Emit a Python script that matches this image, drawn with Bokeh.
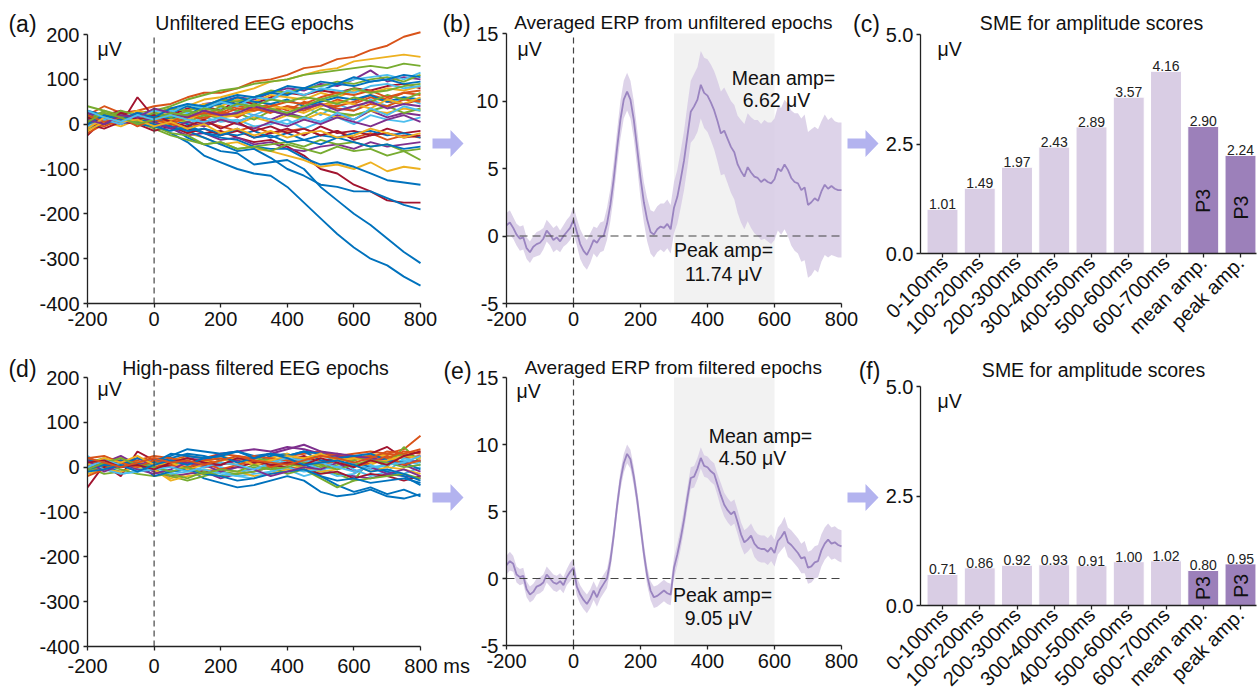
import numpy as np
from math import pi
from bokeh.plotting import figure
from bokeh.layouts import row, column
from bokeh.models import Label, BoxAnnotation, FixedTicker, PrintfTickFormatter, Range1d
from bokeh.core.properties import value
from bokeh.embed import file_html
from bokeh.resources import INLINE

FONT = "Liberation Sans"
FONT_V = value(FONT)

# ------------------------------------------------------------------ data
epoch_times = [-200, -150, -100, -50, 0, 50, 100, 150, 200, 250, 300,
               350, 400, 450, 500, 550, 600, 650, 700, 750, 800]

B, O, Y, P, G, C, R = "#0072BD", "#D95319", "#EDB120", "#7E2F8E", "#77AC30", "#4DBEEE", "#A2142F"

epochs_unfiltered = [
    [10, 20, 5, 15, 0, -20, -40, -70, -85, -100, -110, -115, -140, -175, -210, -245, -275, -300, -315, -340, -360],
    [20, 40, 25, 30, 40, 45, 60, 70, 70, 80, 95, 100, 110, 125, 130, 145, 150, 165, 175, 195, 205],
    [0, 10, 20, 15, 25, 30, 40, 55, 60, 70, 80, 95, 100, 110, 120, 125, 140, 145, 150, 155, 150],
    [5, 15, 25, 10, 20, 35, 30, 45, 50, 60, 55, 70, 80, 75, 90, 85, 100, 120, 95, 105, 100],
    [15, 20, 10, 25, 30, 40, 55, 65, 75, 80, 90, 95, 100, 110, 115, 120, 125, 130, 125, 135, 130],
    [5, 0, 10, 20, 15, 30, 25, 20, 35, 40, 50, 55, 70, 80, 85, 90, 100, 105, 110, 100, 115],
    [-25, 10, 0, 60, 15, 0, -10, -20, -15, -30, -40, -35, -50, -70, -100, -110, -135, -150, -170, -175, -175],
    [20, 25, 10, 20, 10, -5, -30, -45, -60, -65, -90, -85, -80, -100, -140, -170, -200, -225, -255, -285, -310],
    [5, 20, 10, 0, 10, 20, 15, 30, 25, 40, 35, 45, 30, 50, 40, 55, 45, 60, 50, 45, 55],
    [-10, 5, -5, 10, 5, 0, -20, -30, -45, -40, -55, -60, -70, -80, -95, -90, -100, -85, -105, -95, -100],
    [-5, 0, 15, 5, 0, -10, -25, -20, -35, -30, -45, -40, -55, -60, -50, -45, -55, -40, -50, -45, -40],
    [40, 30, 15, 5, -10, -25, -35, -45, -40, -55, -50, -45, -40, -50, -35, -45, -40, -50, -45, -60, -55],
    [10, 15, 0, 10, 20, 5, 15, 25, 10, 30, 20, 35, 25, 40, 20, 45, 30, 55, 40, 60, 45],
    [15, 20, 30, 10, 25, 20, 35, 40, 30, 55, 45, 60, 70, 65, 75, 70, 80, 75, 85, 90, 80],
    [0, 15, 20, 5, 15, 5, -15, -30, -45, -60, -55, -75, -100, -115, -135, -140, -150, -150, -165, -180, -190],
    [-20, 0, 5, 15, 10, 0, -10, 5, -5, -15, -5, -20, -15, -10, -25, -15, -30, -20, -35, -25, -30],
    [10, 25, 15, 30, 20, 35, 30, 45, 40, 55, 50, 65, 60, 55, 70, 60, 75, 70, 80, 75, 85],
    [10, 20, 5, 15, 10, 5, 15, 0, 10, 5, 20, 10, 25, 15, 5, 20, 10, 30, 15, 25, 20],
    [20, 10, 30, 20, 25, 35, 30, 40, 55, 50, 60, 75, 70, 80, 85, 95, 90, 100, 105, 95, 110],
    [20, 5, 15, 25, 10, 20, 0, 15, 5, 10, -5, 0, 10, -10, 5, 15, 0, 20, 10, 5, 15],
    [0, -10, 5, 0, -15, -5, -20, -10, -25, -15, -30, -20, -10, -25, -5, -20, -15, -25, -10, -20, -15],
    [30, 20, 10, 25, 20, 10, 0, -20, -30, -35, -50, -55, -55, -75, -90, -85, -95, -110, -125, -130, -135],
    [0, 15, 5, 10, 5, 10, 20, 15, 25, 20, 35, 30, 40, 35, 45, 40, 50, 65, 55, 70, 65],
    [-5, 10, 5, 15, 0, 10, 5, -5, 10, 0, 15, 5, 20, 10, 25, 15, 20, 30, 25, 35, 30],
    [10, 5, 15, 0, -5, -20, -25, -45, -40, -55, -50, -60, -45, -55, -65, -50, -60, -55, -70, -60, -80],
    [0, 15, 5, 20, 10, 15, 5, 20, 15, 25, 10, 30, 20, 15, 35, 25, 20, 30, 40, 25, 35],
    [15, 5, 20, 10, 5, 15, 20, 40, 45, 60, 50, 45, 55, 40, 50, 60, 55, 65, 50, 60, 55],
    [0, 10, 5, 20, 15, 25, 40, 30, 50, 45, 60, 70, 65, 80, 75, 90, 85, 95, 100, 90, 95],
    [25, 15, 20, 10, 0, -5, -15, -10, -20, -25, -15, -30, -20, -35, -25, -30, -20, -15, -25, -20, -30],
    [-10, 0, 10, 0, -5, -15, -5, -20, -25, -10, -30, -25, -40, -35, -45, -30, -40, -50, -45, -55, -50],
    [5, -5, 10, 25, 15, 5, 20, 10, 30, 15, 35, 25, 40, 30, 45, 35, 30, 45, 40, 55, 50],
    [-15, 5, 20, 10, 30, 20, 10, 25, 15, 20, 30, 40, 35, 25, 40, 50, 45, 35, 55, 45, 60],
    [25, 10, 0, 15, 5, -10, 5, -5, 10, 0, -10, 5, -5, 10, 0, 15, 5, -5, 10, 20, 5],
    [10, 30, 20, 5, 25, 15, 30, 20, 40, 30, 45, 35, 25, 40, 55, 45, 60, 50, 65, 55, 70],
    [-5, 10, 0, 20, 30, 25, 45, 35, 50, 40, 60, 55, 75, 65, 80, 75, 70, 85, 90, 80, 85],
    [15, 0, 25, 10, 20, 5, -5, 10, -10, 5, -15, -5, -20, -10, -25, -15, -35, -25, -20, -30, -25],
    [0, 20, 10, 25, 15, 35, 45, 40, 55, 65, 60, 70, 85, 80, 95, 90, 105, 95, 100, 110, 105],
    [20, 5, 15, -5, 10, 0, 15, 25, 20, 35, 30, 40, 50, 45, 60, 70, 65, 75, 60, 70, 75],
    [-10, 15, 5, 10, -5, 5, -10, 0, -20, -10, -25, -15, -30, -20, -15, -30, -25, -10, -20, -30, -20],
    [10, 0, 20, 15, 35, 25, 15, 30, 20, 25, 40, 30, 20, 35, 45, 30, 40, 50, 35, 45, 40],
    [5, 25, 15, 0, 10, 25, 20, 35, 30, 45, 40, 55, 50, 60, 55, 65, 80, 70, 75, 85, 90],
    [30, 15, 5, 20, 10, 20, 10, 5, 15, 5, 20, 10, 0, 15, 5, 25, 10, 35, 20, 40, 30],
]
epochs_unfiltered_colors = [B, O, Y, P, G, C, R, B, O, Y, P, G, C, R, B, O, Y, P, G, C,
                            R, B, O, Y, G, G, B, B, B, B,
                            O, Y, P, G, C, R, B, O, Y, P, G, C]

epochs_filtered = [
    [10, 0, -10, 5, 0, -10, -5, -25, -35, -45, -40, -30, -20, -30, -55, -65, -60, -50, -65, -70, -60],
    [5, 15, 20, 10, 20, 15, 25, 20, 30, 25, 20, 30, 25, 30, 35, 25, 30, 35, 30, 40, 70],
    [0, 10, 0, 15, -10, -25, -15, -5, -10, 0, 10, 5, -5, 5, 15, 0, 10, 5, 20, 10, 15],
    [-5, 10, 0, 5, -10, -20, -15, -10, -25, -15, -10, 0, 10, 5, -5, -15, -20, -25, -15, -20, -25],
    [0, -15, -10, 0, -5, -20, -30, -20, -10, -15, 0, -5, 10, 0, -10, -15, -30, 20, 0, 45, 10],
    [25, 0, -15, -10, 0, -10, -5, -15, -10, -20, -15, -10, -5, -20, -10, 20, -5, -20, -10, -15, 0],
    [-45, 5, -20, 35, 15, 0, -5, 10, 5, 15, 10, 20, 15, 25, 10, 20, 15, 30, 45, 20, 25],
    [0, 10, 5, -5, 10, 20, 30, 25, 15, 20, 10, 25, 30, 10, -20, -40, -55, -45, -60, -50, -65],
    [-10, 0, 5, -5, 0, 10, 5, 15, 10, 5, 15, 10, 20, 15, 10, 15, 25, 20, 30, 25, 35],
    [15, 5, 20, 10, 5, 15, 20, 10, 25, 15, 10, 20, 30, 15, 25, 20, 15, 30, 25, 20, 10],
    [20, 10, 25, 5, 15, 10, 20, 15, 30, 35, 40, 35, 45, 40, 30, 25, 20, 15, 10, 5, -10],
    [10, 20, 5, 0, 10, 5, 15, 0, 10, 5, 20, 15, 5, 10, 0, 5, 15, 25, 20, 30, 20],
    [0, 10, 15, -5, 5, 15, 5, 10, 0, -10, -5, 5, 15, 10, -5, -20, -15, 5, -10, 20, 10],
    [10, 0, 15, 5, -5, 5, 0, -10, -5, 0, 10, 5, 0, -5, -15, -10, -25, -15, -20, -30, -20],
    [20, 5, 15, 0, 15, 25, 40, 35, 30, 35, 25, 30, 25, 35, 30, 20, 10, 0, -10, -20, -40],
    [20, 25, 10, 15, 25, 20, 10, 15, 20, 15, 25, 20, 15, 20, 25, 30, 20, 25, 20, 35, 30],
    [-15, -5, -10, 0, -5, -30, -20, -15, -5, -10, -20, -15, -5, 0, -10, -5, 5, -10, 0, -5, -15],
    [5, -5, 10, 20, 5, 15, 10, 0, 5, 15, 20, 30, 40, 50, 35, 30, 25, 20, 15, 10, 15],
    [-10, 5, -5, -15, -20, -15, -25, -10, -20, -15, -10, 0, -15, -5, -25, -45, -30, -25, -20, -15, -25],
    [10, -5, -15, -10, 0, -15, -10, -5, -15, -20, -25, -10, 0, -10, -5, 0, 10, -5, 5, 15, 5],
    [-5, 5, 0, 10, -20, -10, -5, -15, -20, -30, -25, -15, -10, -5, -20, -30, -25, -35, -30, -25, -35],
    [15, 10, 5, 20, 10, 30, 25, 20, 25, 35, 20, 30, 25, 35, 15, 20, 25, 30, 15, 10, -5],
    [-20, -5, 10, 0, 15, 5, 0, 10, -5, 5, 15, 0, 10, 20, 5, 15, 0, 10, 25, 5, 15],
    [5, 20, 10, 25, 5, 10, -5, 5, 15, 20, 5, 15, 25, 20, 30, 15, 20, 10, 15, 25, 20],
    [15, -10, 5, -5, -15, -5, 10, 5, -10, 0, -5, -20, -10, 0, -5, 10, -10, 0, -15, -5, -20],
    [-5, 10, 20, 5, 0, -10, 0, -15, -5, -10, 5, -5, 0, 10, 5, -5, 5, 15, 10, 0, 5],
    [0, 15, 5, -10, -5, 0, -10, 0, 10, 5, -5, 10, 20, 15, 10, 0, -10, 0, 5, 10, 25],
    [10, 15, 0, 5, -5, 10, 20, 10, 5, 20, 15, 5, 10, 5, 20, 10, 0, 15, 5, 25, 35],
    [-10, -5, 5, -10, 5, 15, 5, 20, 25, 10, 20, 30, 20, 5, 10, 15, 5, -10, -5, -15, -30],
    [20, 10, 0, 10, 20, 10, 15, 5, 15, 25, 15, 10, 5, 15, 25, 20, 10, 20, 35, 30, 40],
]
epochs_filtered_colors = [B, O, Y, P, G, C, R, B, O, Y, P, G, C, R, B, O, Y, P, G, C, B, B,
                          O, Y, P, G, C, R, B, O]

erp_times = list(range(-200, 801, 10))
erp_unfiltered = [
    0.8, 1.0, 0.6, 0.1, -0.2, -0.1, -0.9, -1.2, -0.8, -0.6,
    -0.5, -0.2, 0.4, 0.1, -0.3, -0.1, -0.4, 0.0, 0.3, 0.6,
    1.2, 0.3, -0.6, -1.1, -1.4, -0.9, -0.3, -0.5, -0.1, 0.0,
    0.9, 2.3, 4.2, 6.5, 8.6, 10.1, 10.7, 10.1, 8.6, 6.5,
    4.3, 2.5, 1.2, 0.3, 0.1, 0.5, 0.7, 0.6, 0.9, 0.5,
    2.1, 2.9, 4.2, 5.6, 7.4, 9.2, 9.6, 10.1, 11.2, 10.6,
    10.4, 9.9, 9.3, 8.5, 7.6, 7.8, 7.2, 6.6, 6.2, 5.3,
    4.8, 4.4, 5.1, 4.7, 4.4, 4.3, 4.0, 4.2, 4.0, 3.9,
    4.2, 5.0, 4.8, 5.3, 4.9, 4.3, 4.0, 3.9, 3.4, 3.6,
    2.3, 2.5, 2.8, 2.6, 3.3, 3.8, 3.5, 3.7, 3.5, 3.4, 3.4]
erp_unfiltered_ci = [
    0.9, 0.9, 0.8, 0.8, 0.9, 0.9, 0.8, 0.8, 0.8, 0.9,
    0.9, 0.8, 0.8, 0.8, 0.9, 0.9, 0.8, 0.8, 0.9, 0.9,
    1.0, 1.0, 1.1, 1.1, 1.1, 1.1, 1.0, 1.1, 1.1, 1.1,
    1.2, 1.2, 1.3, 1.3, 1.4, 1.4, 1.4, 1.4, 1.4, 1.4,
    1.5, 1.5, 1.6, 1.6, 1.7, 1.7, 1.7, 1.8, 1.8, 1.8,
    1.9, 2.0, 2.1, 2.2, 2.3, 2.3, 2.4, 2.4, 2.5, 2.6,
    2.7, 2.8, 2.9, 3.0, 3.1, 3.2, 3.3, 3.4, 3.5, 3.6,
    3.8, 3.9, 4.0, 4.1, 4.2, 4.3, 4.3, 4.4, 4.4, 4.5,
    4.5, 4.6, 4.7, 4.8, 4.9, 5.0, 5.1, 5.2, 5.3, 5.4,
    5.4, 5.4, 5.3, 5.3, 5.2, 5.2, 5.1, 5.1, 5.0, 5.0, 5.0]
erp_filtered = [
    1.0, 1.3, 1.1, 0.3, 0.1, 0.2, -0.8, -1.2, -1.0, -0.6,
    -0.5, -0.3, 0.3, 0.0, -0.3, -0.4, -0.2, -0.5, 0.1, 0.5,
    0.8, -0.6, -1.2, -1.6, -1.9, -1.5, -0.9, -1.4, -0.8, -0.4,
    0.0, 1.3, 3.2, 5.4, 7.3, 8.6, 9.3, 8.9, 7.6, 5.9,
    3.9, 1.9, 0.2, -0.9, -1.4, -1.3, -1.1, -0.9, -1.1, -1.2,
    0.8, 1.8, 3.0, 4.4, 6.0, 7.5, 7.6, 8.2, 9.0, 8.4,
    8.3, 8.0, 7.8, 7.0, 6.2, 5.5, 5.1, 4.8, 5.0, 4.2,
    3.3, 2.7, 2.9, 3.2, 2.6, 2.3, 2.2, 2.2, 2.0, 2.3,
    1.9, 2.8, 3.1, 3.5, 2.7, 2.5, 2.2, 1.9, 1.5, 1.6,
    0.8, 0.9, 1.2, 1.3, 2.1, 2.6, 2.9, 2.6, 2.7, 2.5, 2.4]
erp_filtered_ci = [
    0.7, 0.7, 0.6, 0.6, 0.6, 0.6, 0.6, 0.6, 0.6, 0.6,
    0.6, 0.6, 0.6, 0.6, 0.6, 0.6, 0.6, 0.6, 0.6, 0.7,
    0.7, 0.7, 0.7, 0.7, 0.7, 0.7, 0.7, 0.7, 0.7, 0.7,
    0.7, 0.7, 0.7, 0.7, 0.7, 0.7, 0.7, 0.7, 0.7, 0.7,
    0.7, 0.7, 0.7, 0.7, 0.8, 0.8, 0.8, 0.8, 0.8, 0.8,
    0.8, 0.8, 0.8, 0.8, 0.8, 0.8, 0.8, 0.8, 0.8, 0.8,
    0.8, 0.8, 0.8, 0.8, 0.9, 0.9, 0.9, 0.9, 0.9, 0.9,
    0.9, 0.9, 0.9, 0.9, 1.0, 1.0, 1.0, 1.0, 1.0, 1.0,
    1.0, 1.0, 1.0, 1.1, 1.1, 1.1, 1.1, 1.1, 1.1, 1.2,
    1.2, 1.2, 1.2, 1.2, 1.2, 1.2, 1.2, 1.2, 1.2, 1.2, 1.2]

sme_categories = ["0-100ms", "100-200ms", "200-300ms", "300-400ms", "400-500ms",
                  "500-600ms", "600-700ms", "mean amp.", "peak amp."]
sme_unfiltered = [1.01, 1.49, 1.97, 2.43, 2.89, 3.57, 4.16, 2.90, 2.24]
sme_filtered = [0.71, 0.86, 0.92, 0.93, 0.91, 1.00, 1.02, 0.80, 0.95]
sme_is_p3 = [False, False, False, False, False, False, False, True, True]

time_ticks = [-200, 0, 200, 400, 600, 800]
eeg_ticks = [-400, -300, -200, -100, 0, 100, 200]
erp_ticks = [-5, 0, 5, 10, 15]
sme_ticks = [0.0, 2.5, 5.0]

# ------------------------------------------------------------------ style / geometry
AXIS_COL = "#222222"
LIGHT_BAR = "#d9cde4"
DARK_BAR = "#9c80ba"
ERP_LINE = "#9a84c0"
ERP_BAND = "#d4c8e4"
ARROW_COL = "#b3b3ef"
DASH_COL = "#444444"

STRIP_W = 36          # left strip holding the (a)/(d) panel letters
A_X0, A_AX, A_X1 = STRIP_W, 87, 472     # epochs figure: canvas left, y-axis, canvas right
B_X0, B_AX, B_X1 = 472, 506, 881        # ERP figure
C_X0, C_AX, C_X1 = 881, 920, 1258       # SME figure
C_FR = 1256


def panel(fig_x, fig_y, fig_w, fig_h, fx0, fy0, fx1, fy1, xcal, ycal, axes=True):
    """Figure whose frame occupies page px [fx0,fx1]x[fy0,fy1]; xcal/ycal map page px to data."""
    px_a, vx_a, px_b, vx_b = xcal
    py_a, vy_a, py_b, vy_b = ycal

    def fx(sx):
        return vx_a + (sx - px_a) * (vx_b - vx_a) / (px_b - px_a)

    def fy(sy):
        return vy_a + (sy - py_a) * (vy_b - vy_a) / (py_b - py_a)

    kw = {}
    if not axes:
        kw = dict(x_axis_location=None, y_axis_location=None)
    p = figure(frame_width=fx1 - fx0, frame_height=fy1 - fy0,
               min_border_left=fx0 - fig_x, min_border_right=fig_x + fig_w - fx1,
               min_border_top=fy0 - fig_y, min_border_bottom=fig_y + fig_h - fy1,
               x_range=Range1d(fx(fx0), fx(fx1)), y_range=Range1d(fy(fy1), fy(fy0)),
               output_backend="svg", toolbar_location=None, tools="", **kw)
    p.outline_line_color = None
    p.grid.visible = False
    p.background_fill_color = "white"
    p.border_fill_color = "white"

    def conv(sx, sy):
        return fx(sx), fy(sy)
    return p, conv


def style_axes(p, xticks, yticks, xbounds, ybounds):
    p.xaxis.ticker = FixedTicker(ticks=xticks)
    p.yaxis.ticker = FixedTicker(ticks=yticks)
    p.xaxis.bounds = xbounds
    p.yaxis.bounds = ybounds
    for ax in p.axis:
        ax.axis_line_color = AXIS_COL
        ax.axis_line_width = 1.3
        ax.major_tick_line_color = AXIS_COL
        ax.major_tick_line_width = 1.3
        ax.major_tick_out = 4
        ax.major_tick_in = 0
        ax.minor_tick_line_color = None
        ax.major_label_text_font = FONT
        ax.major_label_text_font_size = "20px"
        ax.major_label_text_color = "#111111"
        ax.major_label_standoff = 4


def lab(p, conv, sx, sy, text, size="19.5px", align="center", baseline="middle"):
    x, y = conv(sx, sy)
    p.add_layout(Label(x=x, y=y, text=text, text_font=FONT, text_font_size=size,
                       text_align=align, text_baseline=baseline, text_color="#111111"))


def arrow(p, conv, x0, yc):
    pts = [(x0, yc - 5), (x0 + 18, yc - 5), (x0 + 18, yc - 13.5), (x0 + 31, yc),
           (x0 + 18, yc + 13.5), (x0 + 18, yc + 5), (x0, yc + 5)]
    xs, ys = zip(*[conv(a, b) for a, b in pts])
    p.patch(list(xs), list(ys), fill_color=ARROW_COL, line_color=None)


def make_epochs(fig_y, fig_h, fy1, y_top_px, traces, colors, last_label):
    p, conv = panel(A_X0, fig_y, A_X1 - A_X0, fig_h, A_AX, fig_y, A_X1, fy1,
                    (A_AX, -200, 420, 800), (y_top_px, 200, fy1, -400))
    style_axes(p, time_ticks, eeg_ticks, (-200, 800), (-400, 200))
    ov = {t: str(t) for t in time_ticks}
    ov[800] = last_label
    p.xaxis.major_label_overrides = ov
    p.yaxis.major_label_overrides = {t: str(t) for t in eeg_ticks}
    p.multi_line(xs=[epoch_times] * len(traces), ys=traces, line_color=colors,
                 line_width=1.9)
    p.segment(x0=[0], y0=[-400], x1=[0], y1=[200], line_dash="6 4",
              line_color=DASH_COL, line_width=1.2)
    return p, conv


def make_erp(fig_y, fig_h, fy1, y_top_px, mean, ci):
    p, conv = panel(B_X0, fig_y, B_X1 - B_X0, fig_h, B_AX, fig_y, B_X1, fy1,
                    (B_AX, -200, 841, 800), (y_top_px, 15, fy1, -5))
    style_axes(p, time_ticks, erp_ticks, (-200, 800), (-5, 15))
    p.xaxis.major_label_overrides = {t: str(t) for t in time_ticks}
    p.yaxis.major_label_overrides = {t: str(t) for t in erp_ticks}
    p.add_layout(BoxAnnotation(left=300, right=600, top=15, bottom=-5,
                               fill_color="#f2f2f2", fill_alpha=1.0,
                               line_color=None, level="underlay"))
    m = np.array(mean)
    c = np.array(ci)
    p.varea(x=erp_times, y1=m - c, y2=m + c, fill_color=ERP_BAND, fill_alpha=0.8)
    p.line(erp_times, mean, line_color=ERP_LINE, line_width=1.8)
    p.segment(x0=[0], y0=[-5], x1=[0], y1=[15], line_dash="6 4",
              line_color=DASH_COL, line_width=1.2)
    p.segment(x0=[-200], y0=[0], x1=[800], y1=[0], line_dash="8 5",
              line_color=DASH_COL, line_width=1.2)
    return p, conv


def make_sme(fig_y, fig_h, fy1, y_top_px, vals, p3_y):
    p, conv = panel(C_X0, fig_y, C_X1 - C_X0, fig_h, C_AX, fig_y, C_FR, fy1,
                    (942, 0, 1240, 8), (y_top_px, 5, fy1, 0))
    idx = list(range(len(sme_categories)))
    xr = (p.x_range.start, p.x_range.end)
    style_axes(p, idx, sme_ticks, xr, (0, 5))
    p.yaxis.formatter = PrintfTickFormatter(format="%.1f")
    p.yaxis.major_label_standoff = 3
    p.xaxis.major_label_overrides = {i: c for i, c in enumerate(sme_categories)}
    p.xaxis.major_label_orientation = pi / 4
    p.xaxis.major_label_standoff = 2
    cols = [DARK_BAR if f else LIGHT_BAR for f in sme_is_p3]
    p.vbar(x=idx, top=vals, width=0.83, fill_color=cols, line_color="white",
           line_width=1)
    p.text(x=idx, y=vals, text=[f"{v:.2f}" for v in vals], text_align="center",
           text_baseline="bottom", text_font=FONT_V, text_font_size="14px",
           text_color="#222222")
    p3x = [i for i, f in zip(idx, sme_is_p3) if f]
    p.text(x=p3x, y=p3_y, text=["P3"] * len(p3x), angle=pi / 2, text_align="center",
           text_baseline="middle", text_font=FONT_V, text_font_size="19.5px",
           text_color="#111111")
    return p, conv


# ------------------------------------------------------------------ left strip
ps, cs = panel(0, 0, STRIP_W, 691, 0, 0, STRIP_W, 691,
               (0, 0, STRIP_W, STRIP_W), (0, 691, 691, 0), axes=False)
lab(ps, cs, 22, 23, "(a)", size="23px")
lab(ps, cs, 22, 368, "(d)", size="23px")

# ------------------------------------------------------------------ top row
pa, ca = make_epochs(0, 345, 303, 34, epochs_unfiltered, epochs_unfiltered_colors, "800")
pb, cb = make_erp(0, 345, 303, 33, erp_unfiltered, erp_unfiltered_ci)
pc, cc = make_sme(0, 359, 253, 34, sme_unfiltered, [1.2, 1.05])

lab(pa, ca, 254, 22, "Unfiltered EEG epochs")
lab(pa, ca, 97, 48, "μV", align="left")
lab(pa, ca, 456, 23, "(b)", size="23px")
arrow(pa, ca, 432, 143)

lab(pb, cb, 673, 22, "Averaged ERP from unfiltered epochs", size="19px")
lab(pb, cb, 517, 48, "μV", align="left")
lab(pb, cb, 783, 77, "Mean amp=")
lab(pb, cb, 776, 99, "6.62 μV")
lab(pb, cb, 723, 249, "Peak amp=")
lab(pb, cb, 723, 273, "11.74 μV")
lab(pb, cb, 866, 23, "(c)", size="23px")
arrow(pb, cb, 847, 143)

lab(pc, cc, 1091, 22, "SME for amplitude scores")
lab(pc, cc, 937, 48, "μV", align="left")

# ------------------------------------------------------------------ bottom row
pd_, cd = make_epochs(345, 346, 646, 377, epochs_filtered, epochs_filtered_colors,
                      "\u00a0" * 6 + "800 ms")
pe, ce = make_erp(345, 346, 645, 377, erp_filtered, erp_filtered_ci)
pf, cf = make_sme(359, 332, 605, 386, sme_filtered, [0.4, 0.45])

lab(pd_, cd, 255, 367, "High-pass filtered EEG epochs")
lab(pd_, cd, 97, 388, "μV", align="left")
lab(pd_, cd, 457, 370, "(e)", size="23px")
arrow(pd_, cd, 432, 497)

lab(pe, ce, 673, 367, "Averaged ERP from filtered epochs", size="19px")
lab(pe, ce, 516, 390, "μV", align="left")
lab(pe, ce, 760, 435, "Mean amp=")
lab(pe, ce, 752, 457, "4.50 μV")
lab(pe, ce, 722, 594, "Peak amp=")
lab(pe, ce, 718, 617, "9.05 μV")
lab(pe, ce, 869, 370, "(f)", size="23px")
arrow(pe, ce, 847, 497)

lab(pf, cf, 1093, 369, "SME for amplitude scores")
lab(pf, cf, 937, 400, "μV", align="left")

layout = row(ps,
             column(pa, pd_, spacing=0),
             column(pb, pe, spacing=0),
             column(pc, pf, spacing=0),
             spacing=0)

open("out.html", "w").write(file_html(layout, INLINE))
